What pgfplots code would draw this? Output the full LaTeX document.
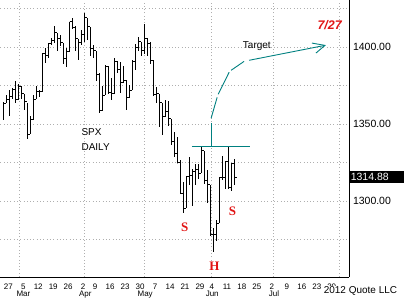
\documentclass[border=0pt]{standalone}
\usepackage{fontspec}
\setmainfont{Liberation Sans}
\newfontfamily\seriffont{Liberation Serif}
\usepackage{pgfplots}
\usepackage{pgfplotstable}
\pgfplotsset{compat=1.18}
\definecolor{tealline}{RGB}{0,128,128}
\definecolor{gridgray}{RGB}{175,175,175}
\definecolor{annred}{RGB}{225,20,20}
\pgfdeclareplotmark{closetick}{\pgfpathmoveto{\pgfpoint{0pt}{0pt}}\pgfpathlineto{\pgfpoint{2.5pt}{0pt}}\pgfusepathqstroke}

\pgfplotstableread{
k h l c
0 1364.24 1352.28 1363.46
1 1368.92 1363.46 1365.74
2 1371.94 1354.92 1367.59
3 1373.09 1365.97 1372.18
4 1378.04 1363.81 1365.68
5 1376.17 1365.68 1374.09
6 1374.53 1366.42 1369.63
7 1369.59 1359.13 1364.33
8 1363.63 1340.03 1343.36
9 1354.85 1343.36 1352.63
10 1368.72 1352.63 1365.91
11 1374.76 1365.91 1370.87
12 1371.94 1367.64 1371.09
13 1396.13 1371.09 1395.95
14 1399.42 1389.97 1394.28
15 1402.63 1392.78 1402.60
16 1405.88 1401.47 1404.17
17 1414.00 1402.43 1409.75
18 1409.13 1397.68 1405.52
19 1407.75 1400.64 1402.89
20 1402.89 1388.73 1392.78
21 1399.18 1386.87 1397.11
22 1416.58 1397.11 1416.51
23 1419.15 1411.95 1412.52
24 1413.65 1397.20 1405.54
25 1405.54 1391.56 1403.28
26 1410.89 1401.42 1408.47
27 1422.38 1403.24 1419.04
28 1419.15 1404.62 1413.38
29 1413.09 1394.09 1398.96
30 1401.60 1392.92 1398.08
31 1397.75 1378.24 1382.20
32 1383.01 1357.38 1358.59
33 1374.71 1358.59 1368.71
34 1388.13 1368.71 1387.57
35 1387.57 1369.85 1370.26
36 1379.66 1365.38 1369.57
37 1392.76 1369.57 1390.78
38 1390.78 1383.29 1385.14
39 1390.41 1370.30 1376.92
40 1387.40 1376.96 1378.53
41 1378.53 1358.79 1366.94
42 1375.57 1366.82 1371.97
43 1391.37 1371.97 1390.69
44 1402.23 1385.21 1399.98
45 1406.64 1397.31 1403.36
46 1403.36 1394.00 1397.91
47 1415.32 1395.73 1405.82
48 1405.82 1393.92 1402.31
49 1403.07 1388.71 1391.57
50 1391.57 1367.96 1369.10
51 1373.91 1363.94 1369.58
52 1369.58 1347.75 1363.72
53 1363.73 1343.13 1354.58
54 1365.88 1354.58 1357.99
55 1365.20 1348.89 1353.39
56 1353.39 1336.61 1338.35
57 1344.94 1328.41 1330.66
58 1341.78 1324.79 1324.80
59 1326.36 1304.86 1304.86
60 1312.24 1291.98 1295.22
61 1316.39 1295.22 1315.99
62 1328.49 1310.04 1316.63
63 1320.71 1296.53 1318.86
64 1324.20 1310.50 1320.68
65 1324.14 1314.23 1317.82
66 1334.93 1317.82 1332.42
67 1332.42 1311.13 1313.32
68 1319.74 1298.90 1310.33
69 1310.33 1277.25 1278.04
70 1282.55 1266.74 1278.18
71 1287.62 1274.16 1285.50
72 1315.13 1285.50 1315.13
73 1329.05 1313.65 1314.99
74 1325.81 1307.77 1325.66
75 1335.52 1307.73 1308.93
76 1324.18 1306.62 1324.18
77 1327.28 1310.51 1314.88
}\spx

\begin{document}
\begin{tikzpicture}
\begin{axis}[
  scale only axis, width=349.3pt, height=277pt,
  xmin=-1.1, xmax=115.33, ymin=1250.45, ymax=1430.3,
  axis x line=bottom, axis y line=right,
  axis line style={-, line width=1pt, black},
  clip=false,
  xtick={2,7,12,17,22,27,31,36,41,46,51,56,61,66,70,75,80,85,90,95,100,105,110},
  xticklabels={27,5,12,19,26,2,9,16,23,30,7,14,21,29,4,11,18,25,2,9,16,23,30},
  xticklabel style={font=\fontsize{8}{8}\selectfont, anchor=north, inner sep=0pt, yshift=-5pt, xshift=-1.5pt},
  x tick style={draw=none},
  minor xtick={5,27,47,69.3,90,112},
  xminorgrids=true,
  minor x grid style={gridgray, dash pattern=on 1pt off 2.3pt},
  minor x tick style={draw=none},
  extra x ticks={6.57,27.2,47.2,69.6,90.2},
  extra x tick labels={Mar,Apr,May,Jun,Jul},
  extra x tick style={grid=none, tick style={draw=none}, tick label style={anchor=north west, yshift=-6.7pt, xshift=1.5pt}},
  ytick={1275,1300,1325,1350,1375,1400,1425},
  yticklabels={,1300.00,,1350.00,,1400.00,},
  ymajorgrids=true,
  y grid style={gridgray, dash pattern=on 1pt off 2.3pt},
  yticklabel style={font=\fontsize{10.5}{10.5}\selectfont, anchor=west, inner sep=0pt, xshift=1.5pt},
  y tick style={draw=none},
]
\addplot[black, only marks, mark=closetick, mark options={line width=1pt, black},
  error bars/.cd, y dir=both, y explicit, error mark=none,
  error bar style={line width=1pt, black}]
  table[x=k, y=c, y error plus expr=\thisrow{h}-\thisrow{c}, y error minus expr=\thisrow{c}-\thisrow{l}] {\spx};

% annotations
\draw[tealline, line width=0.9pt] (axis cs:62.8,1335.5) -- (axis cs:82.2,1335.5);
\draw[tealline, line width=0.9pt] (axis cs:69.2,1335.5) -- (axis cs:69.2,1350.5);
\draw[tealline, line width=0.9pt] (axis cs:69.23,1353.7) -- (axis cs:71.23,1367.3);
\draw[tealline, line width=0.9pt] (axis cs:71.57,1369.3) -- (axis cs:75.23,1383.6);
\draw[tealline, line width=0.9pt] (axis cs:75.9,1384.9) -- (axis cs:80.23,1390.7);
\draw[tealline, line width=0.9pt] (axis cs:81.9,1391.4) -- (axis cs:107.23,1401.1);
\draw[tealline, line width=0.9pt] (axis cs:102.9,1402.6) -- (axis cs:107.23,1401.1) -- (axis cs:104.23,1396.1);

\node[anchor=base west, inner sep=0pt, font=\fontsize{10}{10}\selectfont] at (axis cs:25.9,1342.7) {SPX};
\node[anchor=base west, inner sep=0pt, font=\fontsize{10}{10}\selectfont] at (axis cs:25.9,1332.9) {DAILY};
\node[anchor=base west, inner sep=0pt, font=\fontsize{10}{10}\selectfont] at (axis cs:79.8,1399.2) {Target};
\node[anchor=base west, inner sep=0pt, text=annred, font=\fontsize{12.5}{12.5}\selectfont\bfseries\itshape] at (axis cs:104.7,1411.3) {7/27};
\node[anchor=base, inner sep=0pt, text=annred, font=\seriffont\fontsize{13}{13}\selectfont\bfseries] at (axis cs:60.4,1279.9) {S};
\node[anchor=base, inner sep=0pt, text=annred, font=\seriffont\fontsize{13}{13}\selectfont\bfseries] at (axis cs:76.4,1290.7) {S};
\node[anchor=base, inner sep=0pt, text=annred, font=\seriffont\fontsize{13}{13}\selectfont\bfseries] at (axis cs:70.3,1255.0) {H};

\node[anchor=west, fill=black, text=white, inner xsep=1.4pt, inner ysep=0pt, minimum height=12pt, text width=51.9pt, align=left, font=\fontsize{10.5}{10.5}\selectfont] at (axis cs:115.33,1315.3) {1314.88};
\end{axis}
\node[anchor=base west, fill=white, inner sep=1pt, font=\fontsize{10}{10}\selectfont] at (322.7pt,-17pt) {2012 Quote LLC};
\path (0pt,-21pt) rectangle (404pt,277pt);
\end{tikzpicture}
\end{document}
